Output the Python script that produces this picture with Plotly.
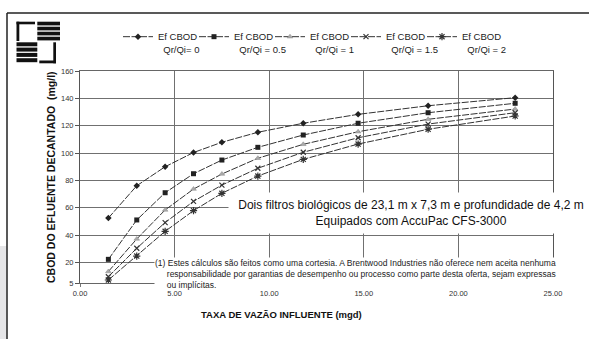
import plotly.graph_objects as go

# ---- data ----
flow_mgd = [1.5, 3.0, 4.5, 6.0, 7.5, 9.4, 11.8, 14.7, 18.4, 23.0]
cbod_r0 = [52.5, 76.1, 90.0, 100.4, 107.9, 115.2, 121.8, 128.3, 134.6, 140.5]
cbod_r05 = [22.3, 51.1, 71.0, 84.9, 94.9, 104.2, 113.2, 121.8, 129.5, 136.4]
cbod_r1 = [13.4, 37.2, 58.4, 73.7, 84.7, 96.2, 106.4, 115.6, 124.7, 132.2]
cbod_r15 = [9.6, 30.4, 49.2, 64.7, 76.6, 88.9, 100.6, 111.2, 121.2, 129.5]
cbod_r2 = [7.2, 24.7, 42.8, 57.9, 70.6, 83.2, 95.4, 106.6, 117.4, 127.1]
series_names = ["Ef CBOD<br>  Qr/Qi= 0", "Ef CBOD<br>  Qr/Qi = 0.5", "Ef CBOD<br>  Qr/Qi = 1",
                "Ef CBOD<br>  Qr/Qi = 1.5", "Ef CBOD<br>  Qr/Qi = 2"]
y_ticks = [5, 20, 40, 60, 80, 100, 120, 140, 160]
x_ticks = [0, 5, 10, 15, 20, 25]

FONT = "Liberation Sans, Arial, sans-serif"

# plot area in pixels
W, H = 589, 339
L, R, T, B = 80, 553, 71, 283


def px(x):
    return (x - L) / (R - L)


def py(y):
    return (B - y) / (B - T)


styles = [
    dict(symbol="diamond", size=5, color="#222", line=dict(width=0)),
    dict(symbol="square", size=5, color="#222", line=dict(width=0)),
    dict(symbol="triangle-up", size=5, color="#aaa", line=dict(width=0.5, color="#888")),
    dict(symbol="x-thin-open", size=5, color="#333", line=dict(width=1.2, color="#333")),
    dict(symbol="asterisk-open", size=6, color="#333", line=dict(width=1.2, color="#333")),
]
all_series = [cbod_r0, cbod_r05, cbod_r1, cbod_r15, cbod_r2]

fig = go.Figure()
for name, ys, st in zip(series_names, all_series, styles):
    fig.add_trace(go.Scatter(
        x=flow_mgd, y=ys, name=name, mode="lines+markers",
        line=dict(color="#333", width=1, dash="7px,1.5px"),
        marker=st,
    ))
# invisible spacer entry so the last legend label is not clipped
fig.add_trace(go.Scatter(x=[None], y=[None], name=" ", mode="lines",
                         line=dict(width=0, color="rgba(0,0,0,0)"), hoverinfo="skip"))

shapes = []
# outer frame
shapes.append(dict(type="rect", xref="paper", yref="paper", x0=px(0), x1=px(6.5), y0=py(339), y1=py(246),
                   fillcolor="#e6e6e8", line=dict(width=0), layer="below"))
shapes.append(dict(type="line", xref="paper", yref="paper", x0=px(7), x1=px(589), y0=py(13), y1=py(13),
                   line=dict(color="#222", width=1.5)))
shapes.append(dict(type="line", xref="paper", yref="paper", x0=px(7), x1=px(7), y0=py(13), y1=py(339),
                   line=dict(color="#222", width=1.5)))

# logo (pixel rectangles)
logo_rects = [
    (16.5, 19.3, 21.7, 41), (16.5, 35, 21.7, 24.3),            # top-left L
    (53.3, 56, 42.3, 63.3), (39.3, 56, 60.5, 63.3),            # bottom-right L
]
for i in range(4):  # top-right stripes
    y0 = 21.7 + i * 5
    logo_rects.append((37.3, 60, y0, y0 + 3.7))
for i in range(4):  # bottom-left stripes
    y0 = 42.3 + i * 5.3
    logo_rects.append((16.5, 37.3, y0, y0 + 4.0))
for (a, b, c, d) in logo_rects:
    shapes.append(dict(type="rect", xref="paper", yref="paper", x0=px(a), x1=px(b), y0=py(d), y1=py(c),
                       fillcolor="#111", line=dict(width=0)))

annotations = [
    dict(text="Dois filtros biológicos de 23,1 m x 7,3 m e profundidade de 4,2 m<br>Equipados com AccuPac CFS-3000",
         xref="paper", yref="paper", x=px(411), y=py(213), xanchor="center", yanchor="middle",
         showarrow=False, align="center", font=dict(family=FONT, size=12, color="#111"),
         bgcolor="white", width=362, height=38),
    dict(text="(1) Estes cálculos são feitos como uma cortesia. A Brentwood Industries não oferece nem aceita nenhuma<br>"
              "     responsabilidade por garantias de desempenho ou processo como parte desta oferta, sejam expressas<br>"
              "     ou implícitas.",
         xref="paper", yref="paper", x=px(154), y=py(257), xanchor="left", yanchor="top",
         showarrow=False, align="left", font=dict(family=FONT, size=8.5, color="#222"),
         bgcolor="white", borderpad=0),
    dict(text="<b>CBOD DO EFLUENTE DECANTADO  (mg/l)</b>", xref="paper", yref="paper",
         x=px(43), y=py(177), textangle=-90, showarrow=False,
         font=dict(family=FONT, size=10.5, color="#111")),
    dict(text="<b>TAXA DE VAZÃO INFLUENTE (mgd)</b>", xref="paper", yref="paper",
         x=px(281), y=py(322), showarrow=False,
         font=dict(family=FONT, size=9.5, color="#111")),
]

fig.update_layout(
    width=W, height=H,
    margin=dict(l=L, r=W - R, t=T, b=H - B, pad=0),
    paper_bgcolor="white", plot_bgcolor="white",
    font=dict(family=FONT, color="#222"),
    showlegend=True,
    legend=dict(orientation="h", x=px(118), y=py(24), xanchor="left", yanchor="top",
                font=dict(family=FONT, size=9.5, color="#222"), itemwidth=30, entrywidth=31,
                valign="top", bgcolor="rgba(0,0,0,0)", tracegroupgap=0),
    shapes=shapes,
    annotations=annotations,
    xaxis=dict(range=[0, 25], tickvals=x_ticks, ticktext=[f"{v:.2f}" for v in x_ticks],
               showgrid=True, gridcolor="#707070", gridwidth=1, zeroline=False,
               showline=True, linecolor="#666", linewidth=1, mirror=True,
               ticks="outside", ticklen=3, tickcolor="#777",
               tickfont=dict(family=FONT, size=7.5, color="#333")),
    yaxis=dict(range=[5, 160], tickvals=y_ticks, ticktext=[str(v) for v in y_ticks],
               showgrid=True, gridcolor="#707070", gridwidth=1, zeroline=False,
               showline=True, linecolor="#555", linewidth=1, mirror=True,
               ticks="outside", ticklen=4, tickcolor="#555",
               tickfont=dict(family=FONT, size=7.5, color="#333")),
)

fig.write_html("out.html", config={"displayModeBar": False},
               post_script="document.body.style.margin='0';")
